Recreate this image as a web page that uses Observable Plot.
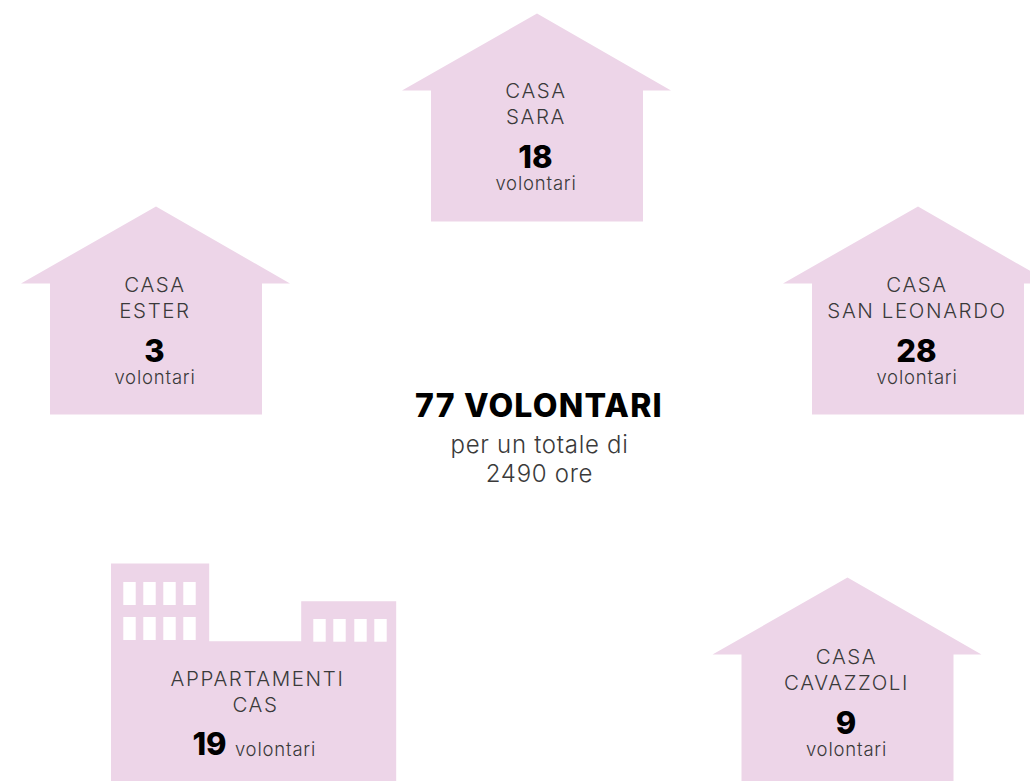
<!DOCTYPE html>
<html>
<head>
<meta charset="utf-8">
<style>html,body{margin:0;padding:0;background:#fff;overflow:hidden}svg{display:block}</style>
<script src="https://cdn.jsdelivr.net/npm/d3@7"></script>
<script src="https://cdn.jsdelivr.net/npm/@observablehq/plot@0.6"></script>
</head>
<body>
<div id="chart"></div>
<script>
const houseNames = [["CASA","SARA"],["CASA","ESTER"],["CASA","SAN LEONARDO"],["CASA","CAVAZZOLI"]];
const houseVolunteers = [18,3,28,9];
const casName = ["APPARTAMENTI","CAS"];
const casVolunteers = 19;
const unitLabel = "volontari";
const totalTitle = "77 VOLONTARI";
const totalLines = ["per un totale di","2490 ore"];

const pink = "#edd5e8", dark = "#3a3a3a", font = "Inter, 'Open Sans', sans-serif";
const anchors = [[536.5,13],[155.5,206],[917.5,206],[847,577]];
const textShift = [0,1,1,2];
const outline = [[0,0],[134,77],[106,77],[106,208],[-106,208],[-106,77],[-135,77]];
const houses = anchors.flatMap(([ax,ay],i)=>outline.map(([dx,dy])=>({i,x:ax+dx,y:ay+dy})));
const cas = [[110.5,563],[208.7,563],[208.7,640.7],[300.7,640.7],[300.7,600.7],[395.7,600.7],[395.7,790],[110.5,790]].map(([x,y])=>({x,y}));
const win = (x,y1,y2)=>({x1:x,x2:x+12.4,y1,y2});
const windows = [
  ...[123.3,143.3,163.3,183.3].flatMap(x=>[win(x,582,605),win(x,617,640)]),
  ...[313.3,333.3,354.3,374.3].map(x=>win(x,619,641.7))
];
const spaced = ls => (index,scales,values,dims,ctx,next)=>{
  const g = next(index,scales,values,dims,ctx);
  g.setAttribute("letter-spacing",ls);
  return g;
};
const t = (rows,size,weight,fill,ls=0)=>Plot.text(rows,{x:"x",y:"y",text:"t",fontSize:size,fontWeight:weight,fill,fontFamily:font,textAnchor:"middle",lineAnchor:"middle",render:spaced(ls)});
const nameRows = anchors.flatMap(([ax,ay],i)=>[{x:ax-1,y:ay+78+textShift[i],t:houseNames[i][0]},{x:ax-1,y:ay+104+textShift[i],t:houseNames[i][1]}]);
const numRows = anchors.map(([ax,ay],i)=>({x:ax-1.5,y:ay+145+textShift[i],t:String(houseVolunteers[i])}));
const unitRows = anchors.map(([ax,ay],i)=>({x:ax-1,y:ay+171+textShift[i],t:unitLabel}));

const plot = Plot.plot({
  width:1030,height:781,margin:0,
  x:{domain:[0,1030],range:[0,1030],axis:null},
  y:{domain:[0,781],range:[0,781],axis:null},
  marks:[
    Plot.line(houses,{x:"x",y:"y",z:"i",fill:pink,stroke:null,curve:"linear"}),
    Plot.line(cas,{x:"x",y:"y",fill:pink,stroke:null,curve:"linear"}),
    Plot.rect(windows,{x1:"x1",x2:"x2",y1:"y1",y2:"y2",fill:"#fff"}),
    t(nameRows,20.5,300,dark,1.6),
    t(numRows,31,800,"#000"),
    t(unitRows,18.5,300,dark,0.8),
    t([{x:257,y:679,t:casName[0]},{x:255,y:705,t:casName[1]}],20.5,300,dark,1.6),
    t([{x:209,y:745,t:String(casVolunteers)}],31,800,"#000"),
    t([{x:275,y:750,t:unitLabel}],18.5,300,dark,0.8),
    t([{x:538.5,y:406,t:totalTitle}],32,800,"#000",1.2),
    t([{x:539,y:445,t:totalLines[0]},{x:539,y:474,t:totalLines[1]}],24,300,dark,0.7)
  ]
});
document.getElementById("chart").append(plot);
</script>
</body>
</html>
